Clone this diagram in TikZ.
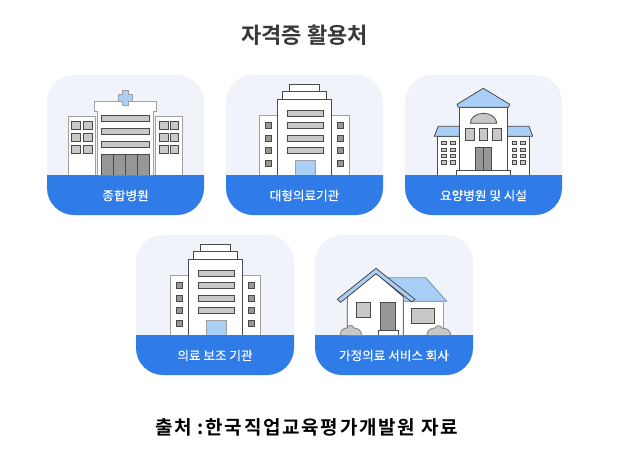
\documentclass[tikz,border=0pt]{standalone}
\usepackage{fontspec}
\setmainfont{Noto Sans CJK KR}
\newfontfamily\titlefont{Noto Sans CJK KR}[BoldFont=* Bold]
\newfontfamily\labelfont{Noto Sans CJK KR}[FakeBold=0.25]
\newfontfamily\sourcefont{Noto Sans CJK KR}[BoldFont=* Bold,LetterSpace=9]
\definecolor{cardbg}{HTML}{F0F3FA}
\definecolor{cardblue}{HTML}{2F7BE8}
\definecolor{skyblue}{HTML}{AACFF7}
\definecolor{wallline}{HTML}{4A4A4A}
\definecolor{paleline}{HTML}{A0A0A0}
\definecolor{glass}{HTML}{C8C8C8}
\definecolor{doorgray}{HTML}{979797}
\tikzset{
  wall/.style={draw=wallline,fill=white,line width=0.8pt},
  palewall/.style={draw=paleline,fill=white,line width=0.9pt},
  pane/.style={draw=wallline,fill=glass,line width=0.8pt},
  darkpane/.style={draw=wallline,fill=doorgray,line width=0.8pt},
  bluepart/.style={draw=wallline,fill=skyblue,line width=0.8pt},
  cardlabel/.style={text=white,font=\labelfont\fontsize{12.6}{14}\selectfont,inner sep=0pt},
}
\newcommand{\cardback}[5]{
  \fill[cardbg,rounded corners=27pt] (#1,#2) rectangle (#3,#2+140);
  \fill[cardblue] (#1,#2+100) -- (#3,#2+100) [rounded corners=27pt] -- (#3,#2+140) -- (#1,#2+140) [sharp corners] -- cycle;
  \node[cardlabel] (#4) at ({(#1+#3)/2},#2+120.5) {#5};
}
\newcommand{\towerblock}[2]{
  \begin{scope}[shift={(#1,#2)}]
    \draw[palewall] (259.3,175) -- (259.3,115.7) -- (349.7,115.7) -- (349.7,175);
    \draw[wall] (289,91.3) -- (289,84) -- (319.7,84) -- (319.7,91.3);
    \draw[wall] (282.3,99.3) -- (282.3,91.3) -- (326.7,91.3) -- (326.7,99.3);
    \draw[wall] (277.3,175) -- (277.3,99.3) -- (331.7,99.3) -- (331.7,175);
    \draw[pane] (287.3,110) rectangle (323.3,116);
    \draw[pane] (287.3,122.3) rectangle (323.3,128.7);
    \draw[pane] (287.3,135) rectangle (323.3,141.3);
    \draw[pane] (287.3,147.3) rectangle (323.3,153.7);
    \draw[bluepart,draw=paleline] (295.3,175) -- (295.3,160.3) -- (315.7,160.3) -- (315.7,175);
    \draw[darkpane] (265.7,122.3) rectangle (271.7,128.7);
    \draw[darkpane] (265.7,135) rectangle (271.7,141.3);
    \draw[darkpane] (265.7,147.3) rectangle (271.7,153.7);
    \draw[darkpane] (265.7,160.3) rectangle (271.7,166.7);
    \draw[darkpane] (337.3,122.3) rectangle (343,128.7);
    \draw[darkpane] (337.3,135) rectangle (343,141.3);
    \draw[darkpane] (337.3,147.3) rectangle (343,153.7);
    \draw[darkpane] (337.3,160.3) rectangle (343,166.7);
  \end{scope}
}
\begin{document}
\begin{tikzpicture}[x=1pt,y=-1pt]
  \useasboundingbox (0,0) rectangle (631,459);
  \fill[white] (0,0) rectangle (631,459);

  \node[text=black!78,font=\titlefont\bfseries\fontsize{22}{26}\selectfont,inner sep=0pt] (title) at (304.5,35) {자격증 활용처};

  \cardback{47}{75}{204}{general}{종합병원}
  \cardback{226}{75}{383}{large}{대형의료기관}
  \cardback{405}{75}{562}{nursing}{요양병원 및 시설}
  \cardback{136}{235}{294}{assist}{의료 보조 기관}
  \cardback{315}{235}{473}{homecare}{가정의료 서비스 회사}

  \draw[palewall] (68.3,175) -- (68.3,116.3) -- (95.7,116.3) -- (95.7,175);
  \draw[palewall] (155.3,175) -- (155.3,116.3) -- (182.7,116.3) -- (182.7,175);
  \draw[wall,draw=paleline] (97.3,175) -- (97.3,111.7) -- (94.3,111.7) -- (94.3,101.3) -- (156.7,101.3) -- (156.7,111.7) -- (153.3,111.7) -- (153.3,175);
  \draw[bluepart,draw=paleline] (122.3,90) -- (128.7,90) -- (128.7,94) -- (132.3,94) -- (132.3,101) -- (128.7,101) -- (128.7,105) -- (122.3,105) -- (122.3,101) -- (118.3,101) -- (118.3,94) -- (122.3,94) -- cycle;
  \draw[pane] (101.3,115) rectangle (149.7,121.7);
  \draw[pane] (101.3,128.3) rectangle (149.7,134.3);
  \draw[pane] (101.3,141.3) rectangle (149.7,147.3);
  \draw[darkpane] (101.3,175) -- (101.3,154.3) -- (149.7,154.3) -- (149.7,175);
  \draw[wall,draw=wallline] (113.8,175) -- (113.8,154.3);
  \draw[wall,draw=wallline] (125.5,175) -- (125.5,154.3);
  \draw[wall,draw=wallline] (137.3,175) -- (137.3,154.3);
  \draw[pane] (71.7,121.3) rectangle (80.7,129.3);
  \draw[pane] (83.7,121.3) rectangle (92,129.3);
  \draw[pane] (71.7,133.3) rectangle (80.7,141.3);
  \draw[pane] (83.7,133.3) rectangle (92,141.3);
  \draw[pane] (71.7,145.3) rectangle (80.7,153.3);
  \draw[pane] (83.7,145.3) rectangle (92,153.3);
  \draw[pane] (159,121.3) rectangle (168,129.3);
  \draw[pane] (170.3,121.3) rectangle (178.7,129.3);
  \draw[pane] (159,133.3) rectangle (168,141.3);
  \draw[pane] (170.3,133.3) rectangle (178.7,141.3);
  \draw[pane] (159,145.3) rectangle (168,153.3);
  \draw[pane] (170.3,145.3) rectangle (178.7,153.3);

  \towerblock{0}{0}
  \towerblock{-89}{160}

  \draw[wall] (437.3,175) -- (437.3,136.3) -- (459.3,136.3) -- (459.3,175);
  \draw[wall] (507.3,175) -- (507.3,136.3) -- (529.7,136.3) -- (529.7,175);
  \draw[bluepart] (459.3,126.3) -- (438.3,126.3) -- (434.3,136.3) -- (459.3,136.3) -- cycle;
  \draw[bluepart] (507.3,126.3) -- (529,126.3) -- (532.7,136.3) -- (507.3,136.3) -- cycle;
  \draw[wall] (459.3,170) -- (459.3,107.3) -- (507.3,107.3) -- (507.3,170) -- cycle;
  \draw[bluepart] (483.3,88.3) -- (509.7,104.3) -- (508.3,107.3) -- (458.3,107.3) -- (457,104.3) -- cycle;
  \draw[wall] (456.3,175) -- (456.3,170) -- (510.3,170) -- (510.3,175);
  \draw[pane] (470.3,123.3) arc[start angle=180,end angle=0,x radius=13.2pt,y radius=10pt] -- cycle;
  \draw[pane] (465.3,128.3) rectangle (474.3,140.3);
  \draw[pane] (479,128.3) rectangle (487.7,140.3);
  \draw[pane] (492.3,128.3) rectangle (501.3,140.3);
  \draw[darkpane] (475.3,147.3) rectangle (483.5,170);
  \draw[darkpane] (483.5,147.3) rectangle (491.7,170);
  \draw[pane] (441.7,141.3) rectangle (446.7,144.7);
  \draw[pane] (450.3,141.3) rectangle (455.3,144.7);
  \draw[pane] (441.7,148) rectangle (446.7,151);
  \draw[pane] (450.3,148) rectangle (455.3,151);
  \draw[pane] (441.7,154.3) rectangle (446.7,157.3);
  \draw[pane] (450.3,154.3) rectangle (455.3,157.3);
  \draw[pane] (441.7,160.7) rectangle (446.7,164);
  \draw[pane] (450.3,160.7) rectangle (455.3,164);
  \draw[pane] (512,141.3) rectangle (516.7,144.7);
  \draw[pane] (520.3,141.3) rectangle (525,144.7);
  \draw[pane] (512,148) rectangle (516.7,151);
  \draw[pane] (520.3,148) rectangle (525,151);
  \draw[pane] (512,154.3) rectangle (516.7,157.3);
  \draw[pane] (520.3,154.3) rectangle (525,157.3);
  \draw[pane] (512,160.7) rectangle (516.7,164);
  \draw[pane] (520.3,160.7) rectangle (525,164);

  \draw[bluepart,draw=skyblue!70!black] (388.3,277.7) -- (425.7,277.7) -- (446.7,301.3) -- (403.3,301.3) -- cycle;
  \draw[wall,draw=paleline] (403.3,335) -- (403.3,301.3) -- (443.3,301.3) -- (443.3,335);
  \draw[wall] (347.3,335) -- (347.3,296.7) -- (376,273.3) -- (403.3,296.7) -- (403.3,335);
  \draw[bluepart] (337.3,299.3) -- (376,268.3) -- (415,299.3) -- (411.7,302) -- (376,273.7) -- (340.7,302.3) -- cycle;
  \draw[pane] (356.3,302.3) rectangle (370,317.3);
  \draw[darkpane] (380.3,330) -- (380.3,302.3) -- (395.7,302.3) -- (395.7,330);
  \draw[wall] (378.3,335) -- (378.3,330) -- (398.7,330) -- (398.7,335);
  \draw[pane] (411.7,308.3) rectangle (434,323.7);
  \draw[pane,draw=wallline!70] (340.3,335) .. controls (340.3,329) and (345,328) .. (347,328) .. controls (348,324.5) and (353,324.5) .. (354,328) .. controls (358,328) and (361.7,331) .. (361.7,335);
  \draw[pane,draw=wallline!70] (427,335) .. controls (427,330) and (431,328) .. (435,328) .. controls (436,325) and (441,325) .. (442,328) .. controls (447,328) and (450.7,331) .. (450.7,335);

  \node[text=black,font=\sourcefont\bfseries\fontsize{19}{22}\selectfont,inner sep=0pt] (source) at (306.5,427.5) {출처 :한국직업교육평가개발원 자료};
\end{tikzpicture}
\end{document}
